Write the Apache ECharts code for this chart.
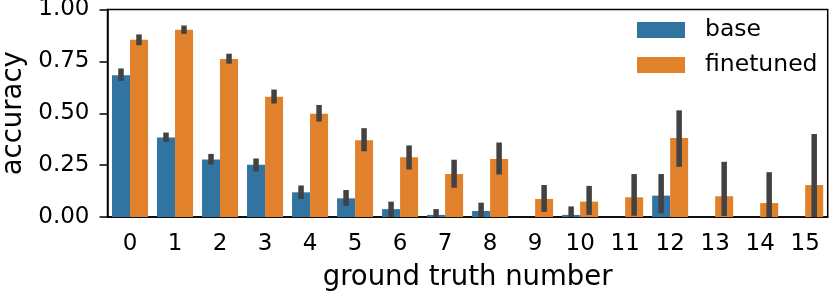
<!DOCTYPE html>
<html>
<head>
<meta charset="utf-8">
<script src="https://cdn.jsdelivr.net/npm/echarts@6/dist/echarts.min.js"></script>
<style>
html,body{margin:0;padding:0;background:#fff;}
#chart{width:829px;height:295px;}
</style>
</head>
<body>
<div id="chart"></div>
<script>
const categories = ['0','1','2','3','4','5','6','7','8','9','10','11','12','13','14','15'];
const baseValues = [0.683,0.383,0.277,0.252,0.119,0.090,0.038,0.010,0.029,0,0.010,0,0.103,0,0,0];
const baseLow  = [0.656,0.362,0.253,0.220,0.087,0.054,0.0,0.0,0.0,null,0.0,null,0.018,null,null,null];
const baseHigh = [0.716,0.407,0.304,0.282,0.152,0.130,0.074,0.038,0.069,null,0.051,null,0.207,null,null,null];
const fineValues = [0.854,0.902,0.761,0.580,0.498,0.370,0.288,0.207,0.279,0.087,0.074,0.095,0.381,0.100,0.067,0.154];
const fineLow  = [0.828,0.883,0.739,0.547,0.460,0.317,0.229,0.141,0.205,0.025,0.010,0.006,0.242,0.005,0.0,0.0];
const fineHigh = [0.880,0.923,0.787,0.614,0.540,0.428,0.345,0.276,0.359,0.154,0.150,0.207,0.514,0.266,0.216,0.400];
const yTicks = [0, 0.25, 0.5, 0.75, 1.0];

const FONT = 'DejaVu Sans';
const chart = echarts.init(document.getElementById('chart'), null, {renderer: 'canvas'});

function errData(lo, hi) {
  const out = [];
  for (let i = 0; i < categories.length; i++) {
    if (lo[i] !== null && hi[i] !== null) out.push([i, lo[i], hi[i]]);
  }
  return out;
}
function errSeries(name, lo, hi, side) {
  return {
    type: 'custom',
    name: name + '_err',
    z: 10,
    silent: true,
    data: errData(lo, hi),
    encode: {x: 0, y: [1, 2]},
    renderItem: function (params, api) {
      const band = api.size([1, 0])[0];
      const x = api.coord([api.value(0), 0])[0] + side * band * 0.2;
      const yLo = api.coord([api.value(0), api.value(1)])[1];
      const yHi = api.coord([api.value(0), api.value(2)])[1];
      const w = 5.5;
      return {
        type: 'rect',
        shape: {x: x - w / 2, y: yHi, width: w, height: Math.max(yLo - yHi, 1)},
        style: {fill: '#424242'}
      };
    }
  };
}

chart.setOption({
  animation: false,
  grid: {left: 107.5, right: 1.3, top: 9.5, bottom: 78, containLabel: false, outerBoundsMode: 'none',
         show: true, borderColor: '#000', borderWidth: 1.5, backgroundColor: 'transparent'},
  legend: {
    orient: 'vertical',
    left: 637, top: 18,
    padding: 0,
    itemWidth: 48, itemHeight: 16, itemGap: 11,
    data: ['base', 'finetuned'],
    textStyle: {fontFamily: FONT, fontSize: 23.5, color: '#000', lineHeight: 24, padding: [0, 0, 0, 15]},
    icon: 'rect'
  },
  xAxis: {
    type: 'category',
    data: categories,
    name: 'ground truth number',
    nameLocation: 'middle',
    nameGap: 47,
    nameTextStyle: {fontFamily: FONT, fontSize: 27.5, color: '#000'},
    axisLine: {lineStyle: {color: '#000', width: 1.5}},
    axisTick: {alignWithLabel: true, length: 8, lineStyle: {color: '#000', width: 1.5}},
    axisLabel: {fontFamily: FONT, fontSize: 23, color: '#000', margin: 16, interval: 0}
  },
  yAxis: {
    type: 'value',
    min: 0, max: 1, interval: 0.25,
    name: 'accuracy',
    nameLocation: 'middle',
    nameGap: 80,
    nameRotate: 90,
    nameTextStyle: {fontFamily: FONT, fontSize: 27.5, color: '#000'},
    splitLine: {show: false},
    axisLine: {show: true, lineStyle: {color: '#000', width: 1.5}},
    axisTick: {show: true, length: 8, lineStyle: {color: '#000', width: 1.5}},
    axisLabel: {fontFamily: FONT, fontSize: 23, color: '#000', margin: 18,
      formatter: v => yTicks.includes(v) ? v.toFixed(2) : ''}
  },
  series: [
    {name: 'base', type: 'bar', data: baseValues, barGap: '0%', barCategoryGap: '20%',
     itemStyle: {color: '#3274a1'}},
    {name: 'finetuned', type: 'bar', data: fineValues, barGap: '0%', barCategoryGap: '20%',
     itemStyle: {color: '#e1812c'}},
    errSeries('base', baseLow, baseHigh, -1),
    errSeries('finetuned', fineLow, fineHigh, 1)
  ]
});
</script>
</body>
</html>
